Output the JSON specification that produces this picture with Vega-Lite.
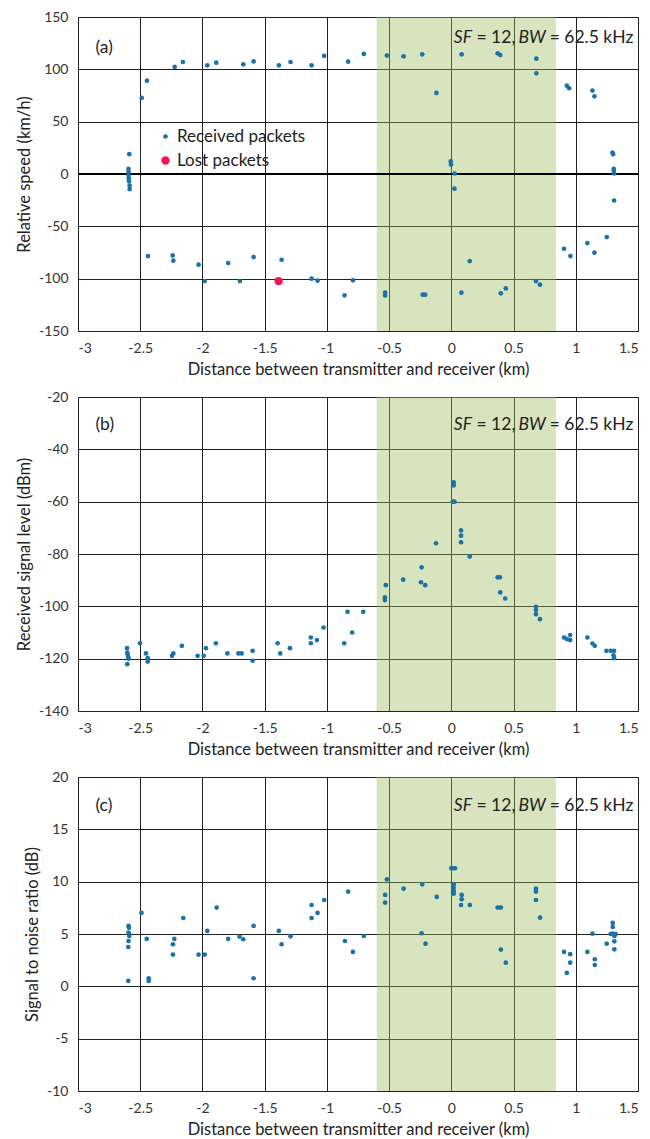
{
  "$schema": "https://vega.github.io/schema/vega-lite/v6.json",
  "padding": {"left": 15, "top": 9, "right": 2, "bottom": 5},
  "spacing": 66,
  "bounds": "flush",
  "resolve": {"legend": {"color": "independent", "size": "independent"}},
  "config": {
    "font": "Lato",
    "view": {"stroke": "#666", "strokeWidth": 1},
    "axis": {
      "labelFont": "Lato", "labelFontSize": 14, "labelColor": "#333",
      "titleFont": "Lato", "titleFontSize": 16.5, "titleFontWeight": "normal", "titleColor": "#222",
      "grid": true, "gridColor": "#222", "gridWidth": 1, "gridOpacity": 1,
      "domain": false, "ticks": false, "labelPadding": 10, "titlePadding": 6
    },
    "text": {"font": "Lato", "color": "#222"}
  },
  "datasets": {
    "band": [{"from": -0.6, "to": 0.84}],
    "speed": [
      {"x": -2.488, "y": 72.7, "s": "Received packets"}, {"x": -2.446, "y": 89.2, "s": "Received packets"},
      {"x": -2.223, "y": 102.3, "s": "Received packets"}, {"x": -2.157, "y": 107, "s": "Received packets"},
      {"x": -1.961, "y": 103.8, "s": "Received packets"}, {"x": -1.889, "y": 106.4, "s": "Received packets"},
      {"x": -1.672, "y": 104.8, "s": "Received packets"}, {"x": -1.589, "y": 107.6, "s": "Received packets"},
      {"x": -1.386, "y": 103.8, "s": "Received packets"}, {"x": -1.292, "y": 107, "s": "Received packets"},
      {"x": -1.123, "y": 103.8, "s": "Received packets"}, {"x": -1.022, "y": 112.8, "s": "Received packets"},
      {"x": -0.829, "y": 107.3, "s": "Received packets"}, {"x": -0.703, "y": 114.7, "s": "Received packets"},
      {"x": -0.518, "y": 113.1, "s": "Received packets"}, {"x": -0.384, "y": 112.4, "s": "Received packets"},
      {"x": -0.234, "y": 114.3, "s": "Received packets"}, {"x": 0.083, "y": 114.3, "s": "Received packets"},
      {"x": 0.372, "y": 115.3, "s": "Received packets"}, {"x": 0.393, "y": 113.7, "s": "Received packets"},
      {"x": 0.683, "y": 110.2, "s": "Received packets"}, {"x": 0.683, "y": 96.2, "s": "Received packets"},
      {"x": -0.12, "y": 77.5, "s": "Received packets"}, {"x": 0.928, "y": 84.4, "s": "Received packets"},
      {"x": 0.947, "y": 81.9, "s": "Received packets"}, {"x": 1.134, "y": 79.7, "s": "Received packets"},
      {"x": 1.15, "y": 74.2, "s": "Received packets"},
      {"x": -2.588, "y": 18.9, "s": "Received packets"}, {"x": -2.594, "y": 5, "s": "Received packets"},
      {"x": -2.594, "y": 2, "s": "Received packets"}, {"x": -2.594, "y": -1, "s": "Received packets"},
      {"x": -2.592, "y": -4, "s": "Received packets"}, {"x": -2.59, "y": -7, "s": "Received packets"},
      {"x": -2.585, "y": -11, "s": "Received packets"}, {"x": -2.585, "y": -14.5, "s": "Received packets"},
      {"x": -0.005, "y": 12.2, "s": "Received packets"}, {"x": -0.003, "y": 9, "s": "Received packets"},
      {"x": 0.027, "y": 0.5, "s": "Received packets"}, {"x": 0.025, "y": -14, "s": "Received packets"},
      {"x": 1.295, "y": 20.5, "s": "Received packets"}, {"x": 1.3, "y": 18.8, "s": "Received packets"},
      {"x": 1.305, "y": 5, "s": "Received packets"}, {"x": 1.305, "y": 3, "s": "Received packets"},
      {"x": 1.308, "y": 0.5, "s": "Received packets"}, {"x": 1.308, "y": -25.3, "s": "Received packets"},
      {"x": -2.438, "y": -78.4, "s": "Received packets"}, {"x": -2.239, "y": -77.8, "s": "Received packets"},
      {"x": -2.234, "y": -82.8, "s": "Received packets"}, {"x": -2.031, "y": -86.6, "s": "Received packets"},
      {"x": -1.982, "y": -102.3, "s": "Received packets"}, {"x": -1.793, "y": -85.1, "s": "Received packets"},
      {"x": -1.699, "y": -102.3, "s": "Received packets"}, {"x": -1.589, "y": -79.4, "s": "Received packets"},
      {"x": -1.364, "y": -81.9, "s": "Received packets"}, {"x": -1.123, "y": -100, "s": "Received packets"},
      {"x": -1.075, "y": -101.9, "s": "Received packets"}, {"x": -0.791, "y": -101.6, "s": "Received packets"},
      {"x": -0.858, "y": -115.9, "s": "Received packets"}, {"x": -0.532, "y": -113.3, "s": "Received packets"},
      {"x": -0.532, "y": -116, "s": "Received packets"}, {"x": -0.23, "y": -115.3, "s": "Received packets"},
      {"x": -0.21, "y": -115.3, "s": "Received packets"}, {"x": 0.081, "y": -113.4, "s": "Received packets"},
      {"x": 0.398, "y": -114, "s": "Received packets"}, {"x": 0.438, "y": -109.3, "s": "Received packets"},
      {"x": 0.68, "y": -102.3, "s": "Received packets"}, {"x": 0.712, "y": -105.7, "s": "Received packets"},
      {"x": 0.148, "y": -83.2, "s": "Received packets"}, {"x": 0.906, "y": -71.4, "s": "Received packets"},
      {"x": 0.957, "y": -78.4, "s": "Received packets"}, {"x": 1.093, "y": -66, "s": "Received packets"},
      {"x": 1.15, "y": -75.2, "s": "Received packets"}, {"x": 1.249, "y": -60.3, "s": "Received packets"},
      {"x": -1.388, "y": -102.3, "s": "Lost packets"}
    ],
    "rssi": [
      {"x": -2.606, "y": -116}, {"x": -2.604, "y": -117.7}, {"x": -2.6, "y": -118.5}, {"x": -2.598, "y": -119.3},
      {"x": -2.592, "y": -120}, {"x": -2.604, "y": -122.1}, {"x": -2.502, "y": -114.1}, {"x": -2.454, "y": -118},
      {"x": -2.44, "y": -119.8}, {"x": -2.44, "y": -121.1}, {"x": -2.245, "y": -118.9}, {"x": -2.234, "y": -118},
      {"x": -2.165, "y": -115.1}, {"x": -2.039, "y": -118.9}, {"x": -1.99, "y": -118.9}, {"x": -1.972, "y": -116},
      {"x": -1.892, "y": -114.1}, {"x": -1.8, "y": -118}, {"x": -1.711, "y": -118}, {"x": -1.685, "y": -118},
      {"x": -1.597, "y": -117}, {"x": -1.597, "y": -120.8}, {"x": -1.396, "y": -114.1}, {"x": -1.375, "y": -118},
      {"x": -1.297, "y": -116}, {"x": -1.129, "y": -111.9}, {"x": -1.129, "y": -114.1}, {"x": -1.08, "y": -112.9},
      {"x": -1.027, "y": -108.1}, {"x": -0.834, "y": -102.1}, {"x": -0.708, "y": -102.1}, {"x": -0.797, "y": -110},
      {"x": -0.861, "y": -114.1}, {"x": -0.526, "y": -91.9}, {"x": -0.534, "y": -96.6}, {"x": -0.534, "y": -97.6},
      {"x": -0.387, "y": -89.8}, {"x": -0.239, "y": -85.1}, {"x": -0.244, "y": -90.8}, {"x": -0.21, "y": -91.9},
      {"x": -0.123, "y": -75.9}, {"x": 0.019, "y": -52.6}, {"x": 0.019, "y": -53.8}, {"x": 0.012, "y": -60},
      {"x": 0.025, "y": -60}, {"x": 0.078, "y": -71}, {"x": 0.078, "y": -73}, {"x": 0.078, "y": -75.5},
      {"x": 0.148, "y": -81}, {"x": 0.372, "y": -88.9}, {"x": 0.39, "y": -88.9}, {"x": 0.393, "y": -94.7},
      {"x": 0.433, "y": -97}, {"x": 0.68, "y": -100.2}, {"x": 0.68, "y": -101.4}, {"x": 0.68, "y": -103},
      {"x": 0.712, "y": -104.9}, {"x": 0.906, "y": -111.9}, {"x": 0.928, "y": -112.5}, {"x": 0.955, "y": -111},
      {"x": 0.955, "y": -112.9}, {"x": 1.093, "y": -111.9}, {"x": 1.134, "y": -114.2}, {"x": 1.153, "y": -115.1},
      {"x": 1.246, "y": -117}, {"x": 1.281, "y": -117}, {"x": 1.308, "y": -117}, {"x": 1.303, "y": -118.7},
      {"x": 1.308, "y": -119.8}
    ],
    "snr": [
      {"x": -2.594, "y": 5.77}, {"x": -2.59, "y": 5.6}, {"x": -2.594, "y": 5.13}, {"x": -2.588, "y": 4.97},
      {"x": -2.588, "y": 4.8}, {"x": -2.594, "y": 4.33}, {"x": -2.596, "y": 3.76}, {"x": -2.596, "y": 0.52},
      {"x": -2.49, "y": 7.01}, {"x": -2.448, "y": 4.53}, {"x": -2.432, "y": 0.77}, {"x": -2.432, "y": 0.52},
      {"x": -2.237, "y": 4.02}, {"x": -2.237, "y": 3.03}, {"x": -2.226, "y": 4.53}, {"x": -2.154, "y": 6.53},
      {"x": -2.031, "y": 3.03}, {"x": -1.982, "y": 3.03}, {"x": -1.961, "y": 5.29}, {"x": -1.886, "y": 7.52},
      {"x": -1.793, "y": 4.53}, {"x": -1.702, "y": 4.75}, {"x": -1.672, "y": 4.5}, {"x": -1.589, "y": 5.77},
      {"x": -1.589, "y": 0.77}, {"x": -1.386, "y": 5.29}, {"x": -1.364, "y": 4.02}, {"x": -1.292, "y": 4.78},
      {"x": -1.123, "y": 7.77}, {"x": -1.123, "y": 6.53}, {"x": -1.075, "y": 7.01}, {"x": -1.022, "y": 8.25},
      {"x": -0.829, "y": 9.05}, {"x": -0.855, "y": 4.33}, {"x": -0.791, "y": 3.29}, {"x": -0.703, "y": 4.81},
      {"x": -0.518, "y": 10.22}, {"x": -0.532, "y": 8.73}, {"x": -0.532, "y": 8.0}, {"x": -0.384, "y": 9.33},
      {"x": -0.234, "y": 9.75}, {"x": -0.239, "y": 5.07}, {"x": -0.207, "y": 4.08}, {"x": -0.117, "y": 8.54},
      {"x": 0.0, "y": 11.28}, {"x": 0.019, "y": 11.28}, {"x": 0.03, "y": 11.28}, {"x": 0.019, "y": 9.75},
      {"x": 0.019, "y": 9.43}, {"x": 0.019, "y": 9.11}, {"x": 0.019, "y": 8.85}, {"x": 0.083, "y": 8.73},
      {"x": 0.083, "y": 8.32}, {"x": 0.078, "y": 7.77}, {"x": 0.149, "y": 7.77}, {"x": 0.372, "y": 7.52},
      {"x": 0.398, "y": 7.52}, {"x": 0.398, "y": 3.51}, {"x": 0.438, "y": 2.26}, {"x": 0.68, "y": 9.33},
      {"x": 0.68, "y": 9.05}, {"x": 0.68, "y": 8.25}, {"x": 0.713, "y": 6.56}, {"x": 0.906, "y": 3.29},
      {"x": 0.955, "y": 3.07}, {"x": 0.955, "y": 2.26}, {"x": 0.928, "y": 1.28}, {"x": 1.093, "y": 3.29},
      {"x": 1.134, "y": 5.03}, {"x": 1.153, "y": 2.59}, {"x": 1.153, "y": 2.04}, {"x": 1.249, "y": 4.08},
      {"x": 1.297, "y": 6.06}, {"x": 1.297, "y": 5.67}, {"x": 1.297, "y": 5.03}, {"x": 1.31, "y": 4.81},
      {"x": 1.31, "y": 4.3}, {"x": 1.31, "y": 3.54}, {"x": 1.28, "y": 5.0}, {"x": 1.32, "y": 5.0}
    ]
  },
  "vconcat": [
    {
      "width": 560, "height": 314,
      "layer": [
        {
          "data": {"name": "band"},
          "mark": {"type": "rect", "color": "#9bbb59", "opacity": 0.4},
          "encoding": {
            "x": {"field": "from", "type": "quantitative", "scale": {"domain": [-3, 1.5], "nice": false, "zero": false},
                  "axis": {"values": [-3, -2.5, -2, -1.5, -1, -0.5, 0, 0.5, 1, 1.5], "labelExpr": "toString(datum.value)", "title": "Distance between transmitter and receiver (km)"}},
            "x2": {"field": "to"}
          }
        },
        {
          "data": {"values": [{"v": 0}]},
          "mark": {"type": "rule", "color": "#000", "strokeWidth": 2},
          "encoding": {"y": {"field": "v", "type": "quantitative", "scale": {"domain": [-150, 150], "nice": false},
                  "axis": {"values": [-150, -100, -50, 0, 50, 100, 150], "labelExpr": "toString(datum.value)", "title": "Relative speed (km/h)"}}}
        },
        {
          "data": {"name": "speed"},
          "mark": {"type": "circle", "opacity": 1},
          "encoding": {
            "x": {"field": "x", "type": "quantitative", "scale": {"domain": [-3, 1.5], "nice": false, "zero": false},
                  "axis": {"values": [-3, -2.5, -2, -1.5, -1, -0.5, 0, 0.5, 1, 1.5], "labelExpr": "toString(datum.value)", "title": "Distance between transmitter and receiver (km)"}},
            "y": {"field": "y", "type": "quantitative", "scale": {"domain": [-150, 150], "nice": false},
                  "axis": {"values": [-150, -100, -50, 0, 50, 100, 150], "labelExpr": "toString(datum.value)", "title": "Relative speed (km/h)"}},
            "color": {"field": "s", "type": "nominal", "scale": {"domain": ["Received packets", "Lost packets"], "range": ["#1b72a8", "#f5134f"]},
                      "legend": {"orient": "none", "legendX": 79, "legendY": 111, "title": null, "labelFontSize": 17, "labelFont": "Lato", "labelColor": "#222", "symbolType": "circle", "rowPadding": 6, "padding": 0, "labelOffset": 3}},
            "size": {"field": "s", "type": "nominal", "scale": {"domain": ["Received packets", "Lost packets"], "range": [22, 70]},
                     "legend": {"orient": "none", "legendX": 79, "legendY": 111, "title": null, "labelFontSize": 17, "labelFont": "Lato", "labelColor": "#222", "symbolType": "circle", "rowPadding": 6, "padding": 0, "labelOffset": 3}}
          }
        },
        {
          "data": {"values": [{"x": -2.86, "y": 120.4, "t": "(a)"}, {"x": 0.202, "y": 130, "t": "= 12,"}, {"x": 0.79, "y": 130, "t": "= 62.5 kHz"}]},
          "mark": {"type": "text", "align": "left", "baseline": "middle", "fontSize": 17.5},
          "encoding": {"x": {"field": "x", "type": "quantitative"}, "y": {"field": "y", "type": "quantitative"}, "text": {"field": "t"}}
        },
        {
          "data": {"values": [{"x": 0.02, "y": 130, "t": "SF"}, {"x": 0.54, "y": 130, "t": "BW"}]},
          "mark": {"type": "text", "align": "left", "baseline": "middle", "fontSize": 17.5, "fontStyle": "italic"},
          "encoding": {"x": {"field": "x", "type": "quantitative"}, "y": {"field": "y", "type": "quantitative"}, "text": {"field": "t"}}
        }
      ]
    },
    {
      "width": 560, "height": 314,
      "layer": [
        {
          "data": {"name": "band"},
          "mark": {"type": "rect", "color": "#9bbb59", "opacity": 0.4},
          "encoding": {
            "x": {"field": "from", "type": "quantitative", "scale": {"domain": [-3, 1.5], "nice": false, "zero": false},
                  "axis": {"values": [-3, -2.5, -2, -1.5, -1, -0.5, 0, 0.5, 1, 1.5], "labelExpr": "toString(datum.value)", "title": "Distance between transmitter and receiver (km)"}},
            "x2": {"field": "to"}
          }
        },
        {
          "data": {"name": "rssi"},
          "mark": {"type": "circle", "opacity": 1, "color": "#1b72a8", "size": 22},
          "encoding": {
            "x": {"field": "x", "type": "quantitative", "scale": {"domain": [-3, 1.5], "nice": false, "zero": false},
                  "axis": {"values": [-3, -2.5, -2, -1.5, -1, -0.5, 0, 0.5, 1, 1.5], "labelExpr": "toString(datum.value)", "title": "Distance between transmitter and receiver (km)"}},
            "y": {"field": "y", "type": "quantitative", "scale": {"domain": [-140, -20], "nice": false, "zero": false},
                  "axis": {"values": [-140, -120, -100, -80, -60, -40, -20], "labelExpr": "toString(datum.value)", "title": "Received signal level (dBm)"}}
          }
        },
        {
          "data": {"values": [{"x": -2.86, "y": -30.8, "t": "(b)"}, {"x": 0.202, "y": -30.8, "t": "= 12,"}, {"x": 0.79, "y": -30.8, "t": "= 62.5 kHz"}]},
          "mark": {"type": "text", "align": "left", "baseline": "middle", "fontSize": 17.5},
          "encoding": {"x": {"field": "x", "type": "quantitative"}, "y": {"field": "y", "type": "quantitative"}, "text": {"field": "t"}}
        },
        {
          "data": {"values": [{"x": 0.02, "y": -30.8, "t": "SF"}, {"x": 0.54, "y": -30.8, "t": "BW"}]},
          "mark": {"type": "text", "align": "left", "baseline": "middle", "fontSize": 17.5, "fontStyle": "italic"},
          "encoding": {"x": {"field": "x", "type": "quantitative"}, "y": {"field": "y", "type": "quantitative"}, "text": {"field": "t"}}
        }
      ]
    },
    {
      "width": 560, "height": 314,
      "layer": [
        {
          "data": {"name": "band"},
          "mark": {"type": "rect", "color": "#9bbb59", "opacity": 0.4},
          "encoding": {
            "x": {"field": "from", "type": "quantitative", "scale": {"domain": [-3, 1.5], "nice": false, "zero": false},
                  "axis": {"values": [-3, -2.5, -2, -1.5, -1, -0.5, 0, 0.5, 1, 1.5], "labelExpr": "toString(datum.value)", "title": "Distance between transmitter and receiver (km)"}},
            "x2": {"field": "to"}
          }
        },
        {
          "data": {"name": "snr"},
          "mark": {"type": "circle", "opacity": 1, "color": "#1b72a8", "size": 22},
          "encoding": {
            "x": {"field": "x", "type": "quantitative", "scale": {"domain": [-3, 1.5], "nice": false, "zero": false},
                  "axis": {"values": [-3, -2.5, -2, -1.5, -1, -0.5, 0, 0.5, 1, 1.5], "labelExpr": "toString(datum.value)", "title": "Distance between transmitter and receiver (km)"}},
            "y": {"field": "y", "type": "quantitative", "scale": {"domain": [-10, 20], "nice": false, "zero": false},
                  "axis": {"values": [-10, -5, 0, 5, 10, 15, 20], "labelExpr": "toString(datum.value)", "title": "Signal to noise ratio (dB)"}}
          }
        },
        {
          "data": {"values": [{"x": -2.86, "y": 17.2, "t": "(c)"}, {"x": 0.202, "y": 17.2, "t": "= 12,"}, {"x": 0.79, "y": 17.2, "t": "= 62.5 kHz"}]},
          "mark": {"type": "text", "align": "left", "baseline": "middle", "fontSize": 17.5},
          "encoding": {"x": {"field": "x", "type": "quantitative"}, "y": {"field": "y", "type": "quantitative"}, "text": {"field": "t"}}
        },
        {
          "data": {"values": [{"x": 0.02, "y": 17.2, "t": "SF"}, {"x": 0.54, "y": 17.2, "t": "BW"}]},
          "mark": {"type": "text", "align": "left", "baseline": "middle", "fontSize": 17.5, "fontStyle": "italic"},
          "encoding": {"x": {"field": "x", "type": "quantitative"}, "y": {"field": "y", "type": "quantitative"}, "text": {"field": "t"}}
        }
      ]
    }
  ]
}
